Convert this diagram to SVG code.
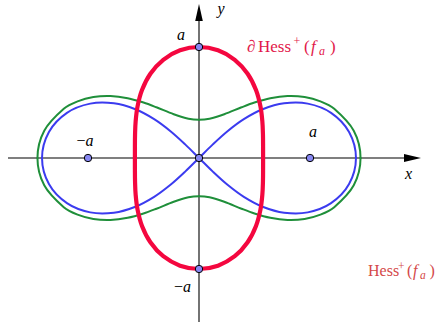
<svg xmlns="http://www.w3.org/2000/svg" xmlns:xlink="http://www.w3.org/1999/xlink" width="440" height="326" viewBox="0 0 440 326">
<style>
.ax{stroke:#000;stroke-width:1.1;fill:none}
.arr{fill:#000;stroke:none}
.blue{stroke:#3b3bef;stroke-width:2;fill:none;stroke-linecap:round}
.green{stroke:#1f8f3a;stroke-width:2;fill:none;stroke-linecap:round}
.red{stroke:#f4073f;stroke-width:4.2;fill:none;stroke-linecap:round}
.pt{fill:#8787f2;stroke:#000;stroke-width:1}
.t{font-family:"Liberation Serif","DejaVu Serif",serif;font-size:16px;fill:#000}
.i{font-style:italic}
.l1{fill:#e2184a}
.l2{fill:#d44848}
</style>
<defs>
<path id="qb" d="M156.98,0 C156.98,8.69 154.22,18.53 150.07,26.06 C145.92,33.59 138.95,40.45 132.06,45.17 C125.17,49.89 116.59,52.79 108.76,54.38 C100.93,55.97 92.62,55.65 85.09,54.70 C77.56,53.75 70.30,51.35 63.59,48.71 C56.88,46.07 50.70,42.49 44.85,38.84 C39.00,35.19 33.68,30.99 28.51,26.79 C23.34,22.59 18.59,18.10 13.84,13.63 C9.09,9.16 4.61,4.54 0,0"/>
<path id="qg" d="M161.54,0 C161.54,9.10 159.04,19.26 154.75,27.29 C150.27,35.67 142.47,42.84 135.23,49.22 C131.37,52.62 126.26,54.72 121.44,56.63 C116.39,58.64 110.98,60.11 105.61,60.98 C100.01,61.89 94.20,62.17 88.52,61.98 C82.76,61.79 76.96,60.93 71.29,59.82 C65.95,58.77 60.70,57.15 55.50,55.50 C51.12,54.11 46.84,52.38 42.55,50.71 C36.76,48.46 31.10,45.84 25.26,43.75 C20.43,42.02 15.51,40.35 10.52,39.24 C7.09,38.48 3.51,38.14 0,38.14"/>
<path id="qr" d="M64.09,0 C64.09,3.77 64.10,7.42 64.08,11.30 C64.06,15.18 64.08,19.07 63.96,23.28 C63.84,27.49 63.77,31.85 63.35,36.57 C62.93,41.29 62.51,46.34 61.45,51.57 C60.39,56.80 59.14,62.49 57.00,67.93 C54.86,73.37 52.16,79.17 48.62,84.22 C45.08,89.27 40.69,94.31 35.75,98.22 C30.81,102.13 24.94,105.54 18.98,107.67 C13.02,109.80 6.33,111 0,111"/>
</defs>
<g id="axes">
<line class="ax" x1="8" y1="158" x2="406" y2="158"/>
<polygon class="arr" points="421,158 404,154 404,162"/>
<line class="ax" x1="199" y1="322" x2="199" y2="19"/>
<polygon class="arr" points="199,4 195.2,21 202.8,21"/>
</g>
<g id="curves" transform="translate(199,158)">
<g id="green-oval" class="green">
<use xlink:href="#qg" transform="scale(1,-1)"/>
<use xlink:href="#qg" transform="scale(-1,-1)"/>
<use xlink:href="#qg"/>
<use xlink:href="#qg" transform="scale(-1,1)"/>
</g>
<g id="blue-lemniscate" class="blue">
<use xlink:href="#qb" transform="scale(1,-1)"/>
<use xlink:href="#qb" transform="scale(-1,-1)"/>
<use xlink:href="#qb"/>
<use xlink:href="#qb" transform="scale(-1,1)"/>
</g>
<g id="red-boundary" class="red">
<use xlink:href="#qr" transform="scale(1,-1)"/>
<use xlink:href="#qr" transform="scale(-1,-1)"/>
<use xlink:href="#qr"/>
<use xlink:href="#qr" transform="scale(-1,1)"/>
</g>
</g>
<g id="points">
<circle class="pt" cx="199" cy="47" r="3.7"/>
<circle class="pt" cx="199" cy="269" r="3.7"/>
<circle class="pt" cx="88" cy="158" r="3.7"/>
<circle class="pt" cx="310" cy="158" r="3.7"/>
<circle class="pt" cx="199" cy="158" r="3.7"/>
</g>
<g id="labels">
<text class="t i" x="221" y="14" text-anchor="middle">y</text>
<text class="t i" x="408.5" y="179" text-anchor="middle">x</text>
<text class="t i" x="181" y="39.5" text-anchor="middle">a</text>
<text class="t" x="182.5" y="292" text-anchor="middle">−<tspan class="i">a</tspan></text>
<text class="t" x="85" y="145.5" text-anchor="middle">−<tspan class="i">a</tspan></text>
<text class="t i" x="313" y="137" text-anchor="middle">a</text>
<text class="t l1" style="font-size:17px"><tspan x="247" y="51.5">∂</tspan><tspan x="258" y="51.5">Hess</tspan><tspan x="293.5" y="45" style="font-size:12px">+</tspan><tspan x="304" y="51.5">(</tspan><tspan x="311" y="51.5" class="i">f</tspan><tspan x="319" y="54.5" class="i" style="font-size:12px">a</tspan><tspan x="330" y="51.5">)</tspan></text>
<text class="t l2"><tspan x="368" y="276">Hess</tspan><tspan x="398" y="269.5" style="font-size:11.5px">+</tspan><tspan x="407" y="276">(</tspan><tspan x="413" y="276" class="i">f</tspan><tspan x="420" y="279" class="i" style="font-size:11.5px">a</tspan><tspan x="429.5" y="276">)</tspan></text>
</g>
</svg>
